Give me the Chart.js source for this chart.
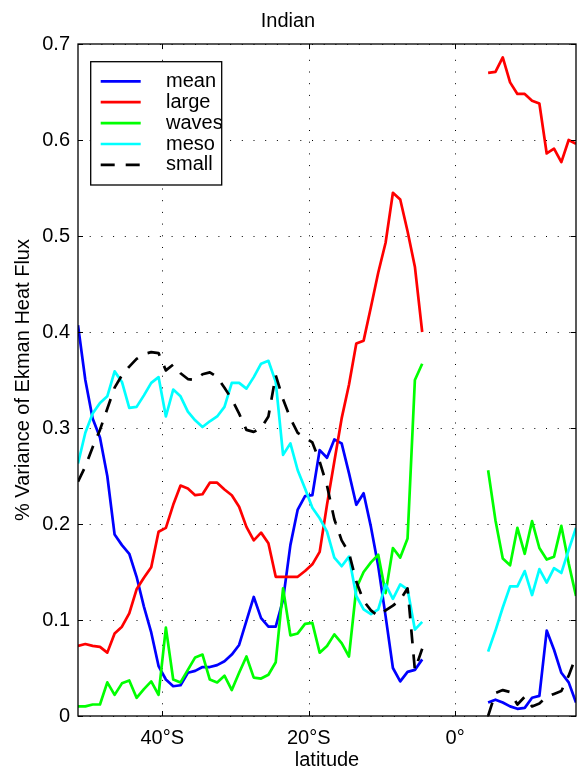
<!DOCTYPE html>
<html>
<head>
<meta charset="utf-8">
<title>Indian</title>
<script src="https://cdn.jsdelivr.net/npm/chart.js@4/dist/chart.umd.min.js"></script>
<style>
  html, body { margin: 0; padding: 0; background: #ffffff; }
  #wrap { width: 584px; height: 772px; }
</style>
</head>
<body>
<div id="wrap"><canvas id="chart" width="584" height="772"></canvas></div>
<script>
// Latitude grid (degrees, negative = south); no data between 3.5S and 3.5N
const latitude = [
  -51.5, -50.5, -49.5, -48.5, -47.5, -46.5, -45.5, -44.5, -43.5, -42.5,
  -41.5, -40.5, -39.5, -38.5, -37.5, -36.5, -35.5, -34.5, -33.5, -32.5,
  -31.5, -30.5, -29.5, -28.5, -27.5, -26.5, -25.5, -24.5, -23.5, -22.5,
  -21.5, -20.5, -19.5, -18.5, -17.5, -16.5, -15.5, -14.5, -13.5, -12.5,
  -11.5, -10.5, -9.5, -8.5, -7.5, -6.5, -5.5, -4.5,
  -3.5, -2.5, -1.5, -0.5, 0.5, 1.5, 2.5, 3.5,
  4.5, 5.5, 6.5, 7.5, 8.5, 9.5, 10.5, 11.5, 12.5, 13.5, 14.5, 15.5, 16.5
];

// Fraction of Ekman heat flux variance carried by each component
const mean = [
  0.407, 0.350, 0.310, 0.290, 0.250, 0.189, 0.178, 0.169, 0.145, 0.114,
  0.087, 0.052, 0.038, 0.031, 0.032, 0.045, 0.047, 0.051, 0.051, 0.053,
  0.057, 0.064, 0.074, 0.099, 0.124, 0.102, 0.093, 0.093, 0.121, 0.178,
  0.215, 0.229, 0.230, 0.277, 0.269, 0.288, 0.284, 0.253, 0.220, 0.232,
  0.197, 0.156, 0.104, 0.050, 0.036, 0.046, 0.048, 0.059,
  null, null, null, null, null, null, null, null,
  0.014, 0.017, 0.014, 0.010, 0.0075, 0.0085, 0.019, 0.021, 0.089, 0.069, 0.045, 0.035, 0.014
];
const large = [
  0.073, 0.075, 0.073, 0.072, 0.066, 0.086, 0.093, 0.107, 0.132, 0.144,
  0.155, 0.192, 0.196, 0.220, 0.240, 0.237, 0.230, 0.231, 0.243, 0.243,
  0.236, 0.230, 0.218, 0.197, 0.183, 0.191, 0.180, 0.145, 0.145, 0.145,
  0.145, 0.151, 0.158, 0.171, 0.220, 0.265, 0.310, 0.345, 0.388, 0.391,
  0.426, 0.462, 0.493, 0.545, 0.538, 0.505, 0.468, 0.400,
  null, null, null, null, null, null, null, null,
  0.670, 0.671, 0.686, 0.660, 0.648, 0.648, 0.641, 0.638, 0.586, 0.591, 0.577, 0.600, 0.596
];
const waves = [
  0.010, 0.010, 0.012, 0.012, 0.035, 0.022, 0.034, 0.037, 0.019, 0.028,
  0.036, 0.022, 0.092, 0.038, 0.035, 0.048, 0.061, 0.064, 0.038, 0.035,
  0.042, 0.027, 0.045, 0.062, 0.040, 0.039, 0.043, 0.056, 0.133, 0.084,
  0.086, 0.096, 0.097, 0.066, 0.073, 0.085, 0.076, 0.062, 0.133, 0.150,
  0.160, 0.168, 0.128, 0.175, 0.165, 0.185, 0.350, 0.367,
  null, null, null, null, null, null, null, null,
  0.256, 0.204, 0.164, 0.157, 0.196, 0.169, 0.203, 0.175, 0.163, 0.166, 0.198, 0.159, 0.125
];
const meso = [
  0.263, 0.295, 0.315, 0.326, 0.333, 0.359, 0.348, 0.321, 0.322, 0.334,
  0.347, 0.353, 0.312, 0.340, 0.333, 0.317, 0.308, 0.301, 0.307, 0.312,
  0.322, 0.347, 0.347, 0.341, 0.353, 0.367, 0.370, 0.348, 0.272, 0.284,
  0.256, 0.237, 0.217, 0.206, 0.192, 0.165, 0.156, 0.166, 0.125, 0.111,
  0.106, 0.111, 0.137, 0.122, 0.137, 0.132, 0.090, 0.098,
  null, null, null, null, null, null, null, null,
  0.067, 0.089, 0.113, 0.135, 0.135, 0.151, 0.126, 0.153, 0.139, 0.154, 0.149, 0.173, 0.196
];
const small = [
  0.244, 0.260, 0.280, 0.298, 0.320, 0.342, 0.355, 0.364, 0.372, 0.377,
  0.379, 0.378, 0.360, 0.366, 0.357, 0.351, 0.350, 0.356, 0.358, 0.353,
  0.342, 0.330, 0.315, 0.298, 0.296, 0.300, 0.312, 0.355, 0.330, 0.310,
  0.295, 0.290, 0.285, 0.265, 0.240, 0.205, 0.183, 0.170, 0.140, 0.120,
  0.110, 0.104, 0.110, 0.115, 0.121, 0.133, 0.048, 0.070,
  null, null, null, null, null, null, null, null,
  0.000, 0.024, 0.027, 0.025, 0.012, 0.020, 0.010, 0.013, 0.020, 0.023, 0.026, 0.042, 0.062
];

const seriesNames  = ['mean', 'large', 'waves', 'meso', 'small'];
const seriesValues = [mean, large, waves, meso, small];
const seriesColors = ['#0000ff', '#ff0000', '#00ff00', '#00ffff', '#000000'];
const seriesDashed = [false, false, false, false, true];

const xTickValues = [-40, -20, 0];
const xTickLabels = ['40°S', '20°S', '0°'];
const yTickValues = [0, 0.1, 0.2, 0.3, 0.4, 0.5, 0.6, 0.7];
const yTickLabels = ['0', '0.1', '0.2', '0.3', '0.4', '0.5', '0.6', '0.7'];

const DASH = [14, 11];
const LINE_W = 2.7;

Chart.defaults.font.family = '"Liberation Sans", Arial, Helvetica, sans-serif';
Chart.defaults.font.size = 20;
Chart.defaults.color = '#000000';

// Dotted grid under the data; box, inward ticks and legend above it
const framePlugin = {
  id: 'frame',
  beforeDatasetsDraw(chart) {
    const {ctx, chartArea: a, scales: {x, y}} = chart;
    ctx.save();
    ctx.strokeStyle = '#000000';
    ctx.lineWidth = 1;
    ctx.setLineDash([1, 10.7]);
    xTickValues.forEach(v => {
      const px = Math.round(x.getPixelForValue(v)) + 0.5;
      ctx.beginPath(); ctx.moveTo(px, a.bottom); ctx.lineTo(px, a.top); ctx.stroke();
    });
    yTickValues.forEach(v => {
      const py = Math.round(y.getPixelForValue(v)) + 0.5;
      ctx.beginPath(); ctx.moveTo(a.left, py); ctx.lineTo(a.right, py); ctx.stroke();
    });
    ctx.restore();
  },
  afterDatasetsDraw(chart) {
    const {ctx, chartArea: a, scales: {x, y}} = chart;
    const tl = 5;
    ctx.save();
    ctx.strokeStyle = '#000000';
    ctx.lineWidth = 1.3;
    ctx.setLineDash([]);
    ctx.strokeRect(a.left, a.top, a.right - a.left, a.bottom - a.top);
    ctx.lineWidth = 1;
    ctx.beginPath();
    xTickValues.forEach(v => {
      const px = Math.round(x.getPixelForValue(v)) + 0.5;
      ctx.moveTo(px, a.bottom); ctx.lineTo(px, a.bottom - tl);
      ctx.moveTo(px, a.top); ctx.lineTo(px, a.top + tl);
    });
    yTickValues.forEach(v => {
      const py = Math.round(y.getPixelForValue(v)) + 0.5;
      ctx.moveTo(a.left, py); ctx.lineTo(a.left + tl, py);
      ctx.moveTo(a.right, py); ctx.lineTo(a.right - tl, py);
    });
    ctx.stroke();

    // legend box in the upper-left corner of the axes
    const bx = a.left + 12.7, by = a.top + 17.7, bw = 131, bh = 123.3;
    ctx.fillStyle = '#ffffff';
    ctx.fillRect(bx, by, bw, bh);
    ctx.lineWidth = 1.3;
    ctx.strokeRect(bx, by, bw, bh);
    ctx.font = '20px "Liberation Sans", Arial, Helvetica, sans-serif';
    ctx.textBaseline = 'middle';
    ctx.textAlign = 'left';
    chart.data.datasets.forEach((ds, i) => {
      const ry = by + 19.6 + i * 20.9;
      ctx.strokeStyle = ds.borderColor;
      ctx.lineWidth = LINE_W;
      ctx.setLineDash(ds.borderDash || []);
      ctx.beginPath();
      ctx.moveTo(bx + 10, ry); ctx.lineTo(bx + 50, ry);
      ctx.stroke();
      ctx.setLineDash([]);
      ctx.fillStyle = '#000000';
      ctx.fillText(ds.label, bx + 75.3, ry);
    });
    ctx.restore();
  }
};

const datasets = seriesNames.map((name, k) => ({
  label: name,
  data: latitude.map((lat, i) => ({x: lat, y: seriesValues[k][i]})),
  borderColor: seriesColors[k],
  backgroundColor: seriesColors[k],
  borderWidth: LINE_W,
  borderDash: seriesDashed[k] ? DASH : [],
  borderJoinStyle: 'round',
  pointRadius: 0,
  tension: 0,
  fill: false,
  spanGaps: false,
  order: seriesNames.length - k
}));

new Chart(document.getElementById('chart'), {
  type: 'line',
  data: {datasets},
  options: {
    responsive: false,
    animation: false,
    devicePixelRatio: 1,
    layout: {padding: {left: 0, right: 8, top: 0, bottom: 0}},
    plugins: {
      legend: {display: false},
      tooltip: {enabled: false},
      title: {
        display: true,
        text: 'Indian',
        font: {size: 20, weight: 'normal'},
        color: '#000000',
        padding: {top: 9, bottom: 11}
      }
    },
    scales: {
      x: {
        type: 'linear',
        min: -51.5,
        max: 16.5,
        grid: {display: false, drawTicks: false},
        border: {display: false},
        afterBuildTicks: s => { s.ticks = xTickValues.map(v => ({value: v})); },
        afterFit: s => { s.height = 56; },
        ticks: {
          autoSkip: false,
          maxRotation: 0,
          padding: 10,
          font: {size: 20},
          color: '#000000',
          callback: (v, i) => xTickLabels[i]
        },
        title: {
          display: true,
          text: 'latitude',
          font: {size: 20},
          color: '#000000',
          padding: {top: 0, bottom: 0}
        }
      },
      y: {
        type: 'linear',
        min: 0,
        max: 0.7,
        grid: {display: false, drawTicks: false},
        border: {display: false},
        afterBuildTicks: s => { s.ticks = yTickValues.map(v => ({value: v})); },
        afterFit: s => { s.width = 78; },
        ticks: {
          padding: 8,
          font: {size: 20},
          color: '#000000',
          callback: (v, i) => yTickLabels[i]
        },
        title: {
          display: true,
          text: '% Variance of Ekman Heat Flux',
          font: {size: 20},
          color: '#000000',
          padding: {top: 11, bottom: 0}
        }
      }
    }
  },
  plugins: [framePlugin]
});
</script>
</body>
</html>
